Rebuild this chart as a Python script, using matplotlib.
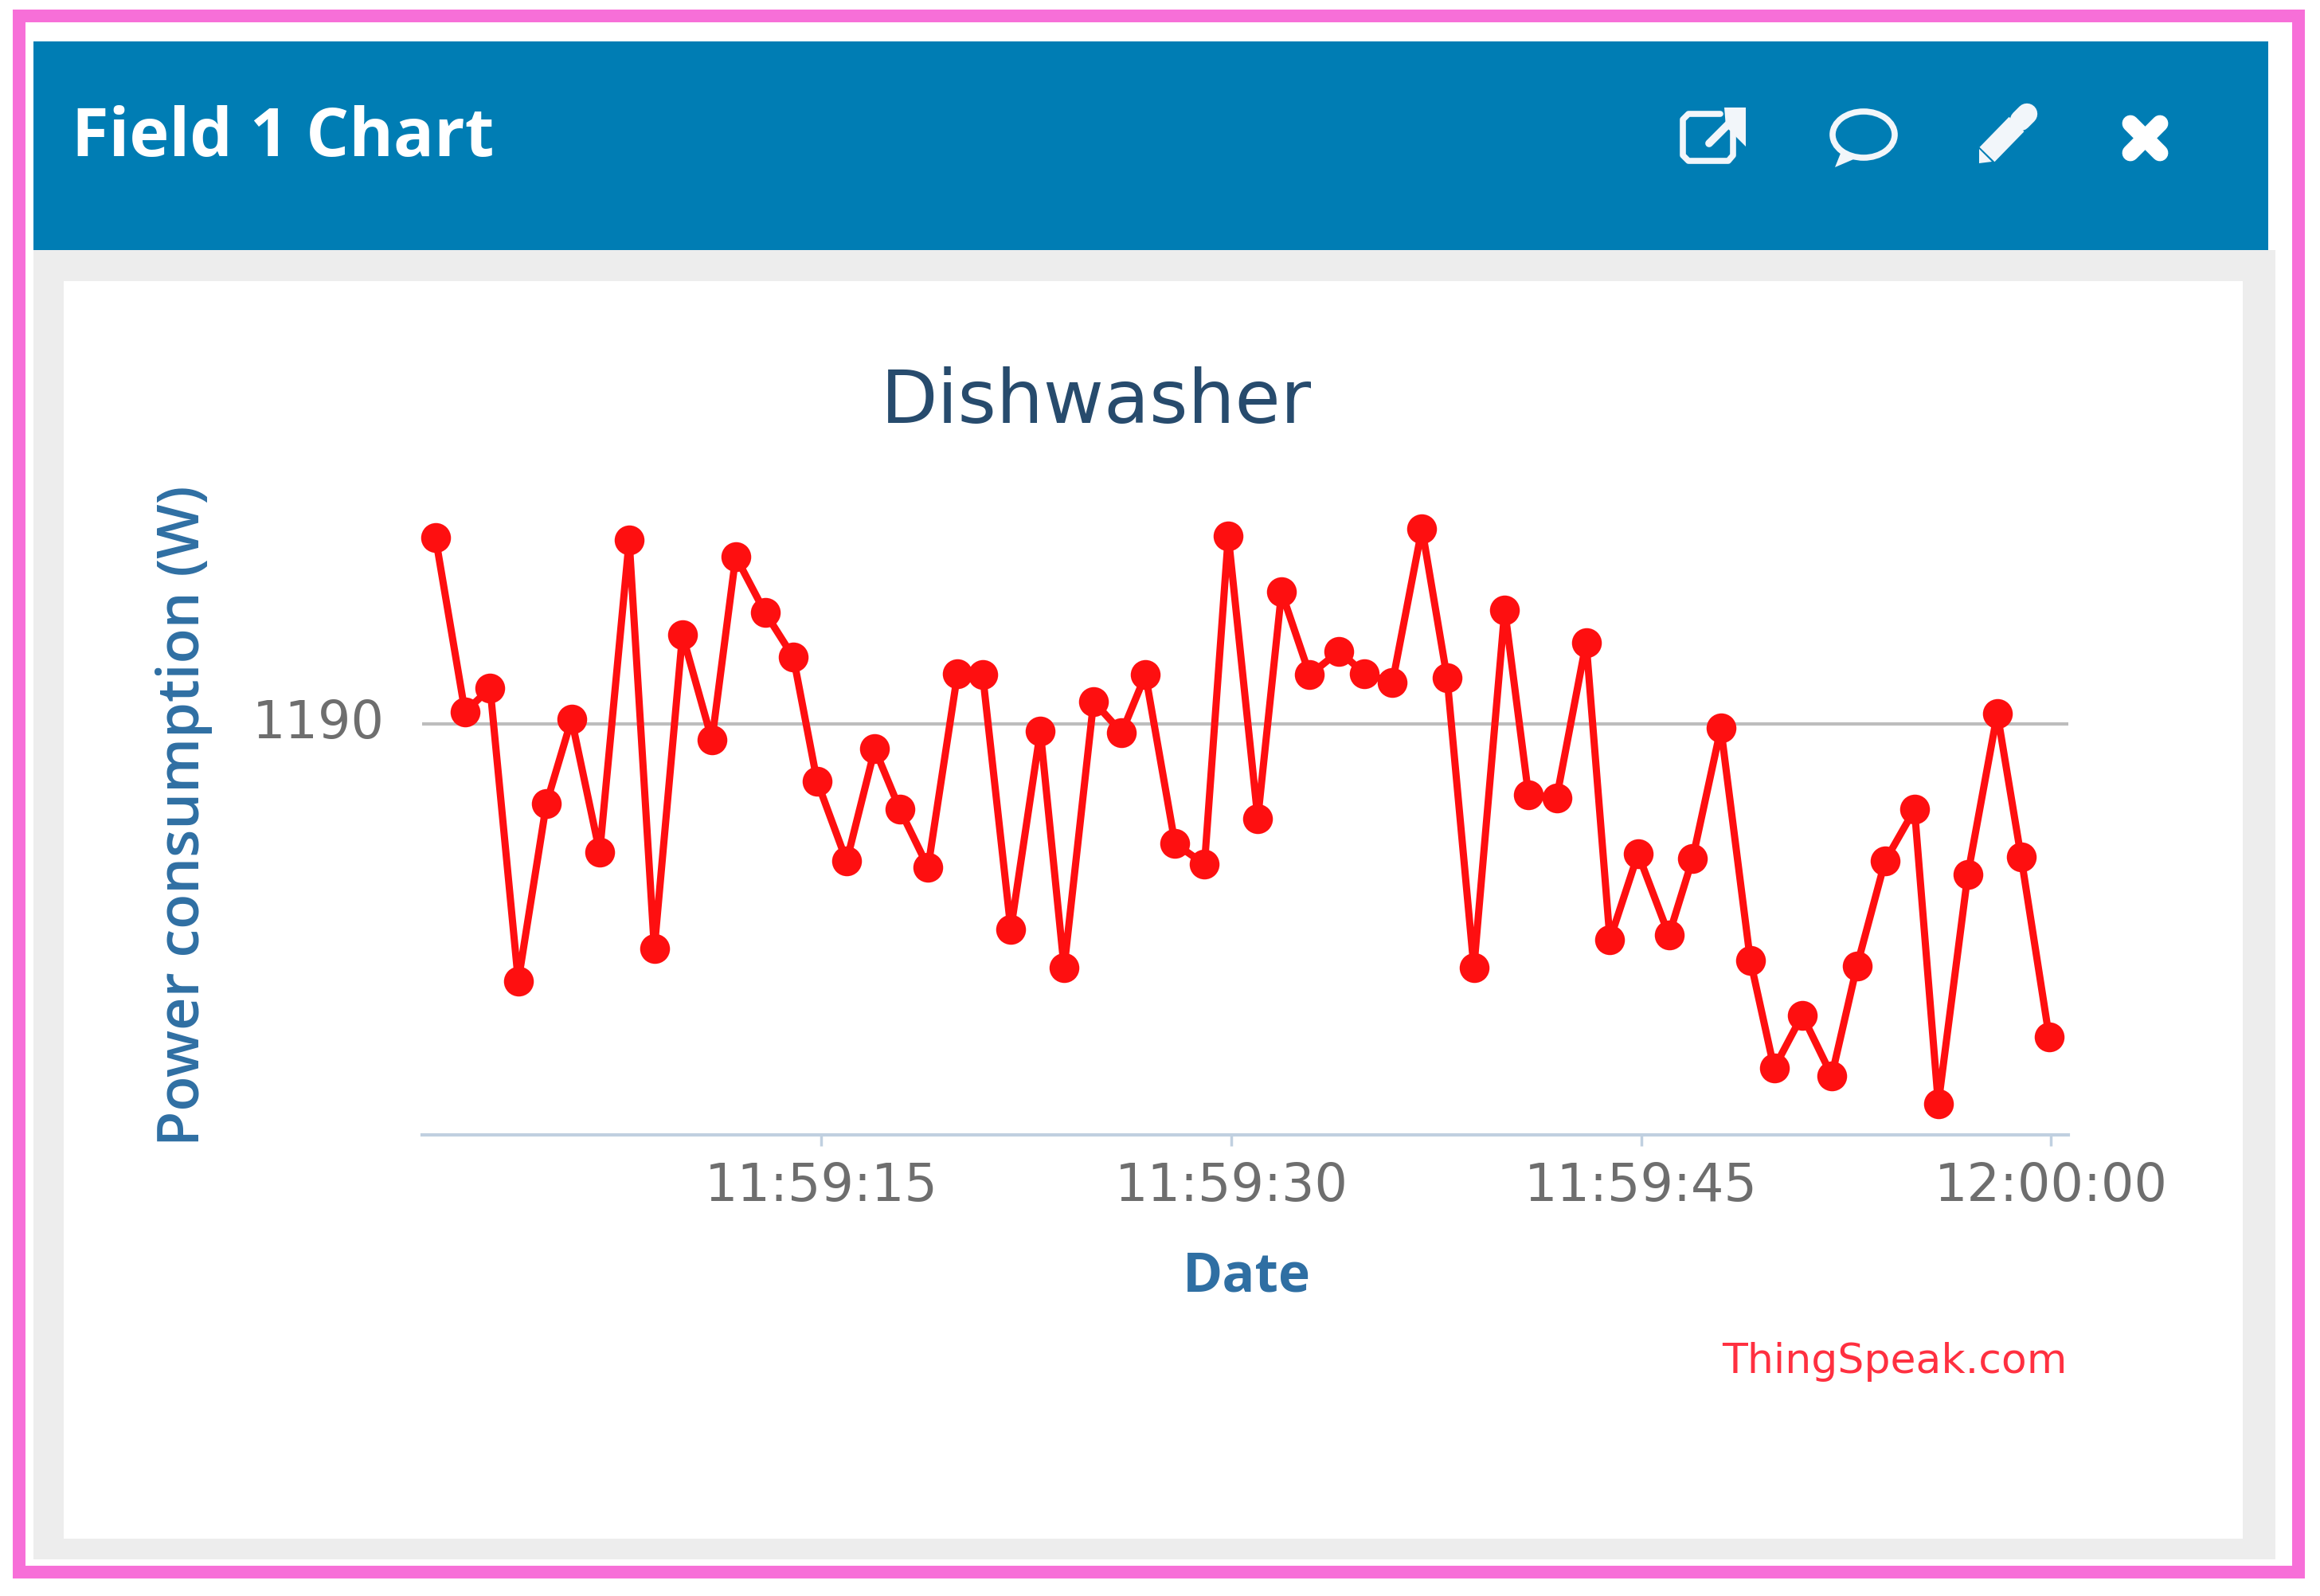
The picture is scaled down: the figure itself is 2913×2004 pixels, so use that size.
import matplotlib
matplotlib.use("Agg")
import matplotlib.pyplot as plt
from matplotlib.patches import Rectangle, Ellipse, Polygon
from matplotlib.transforms import ScaledTranslation

#seconds after 11:59:00
seconds = [0.87, 1.95, 2.87, 3.90, 4.93, 5.85, 6.88, 7.96, 8.88, 9.91,
           10.99, 11.86, 12.94, 13.97, 14.84, 15.92, 16.95, 17.87, 18.90, 19.98,
           20.90, 21.93, 23.01, 23.88, 24.96, 25.99, 26.86, 27.94, 29.02, 29.89,
           30.97, 31.84, 32.87, 33.95, 34.87, 35.90, 36.98, 37.90, 38.88, 40.01,
           40.88, 41.91, 42.99, 43.86, 44.89, 46.02, 46.89, 47.92, 49.00, 49.87,
           50.90, 51.98, 52.90, 53.93, 55.01, 55.88, 56.96, 58.04, 58.91, 59.94]
power = [1191.26, 1190.08, 1190.24, 1188.26, 1189.46, 1190.03, 1189.13, 1191.24, 1188.48, 1190.60,
         1189.89, 1191.13, 1190.75, 1190.45, 1189.61, 1189.07, 1189.83, 1189.42, 1189.03, 1190.34,
         1190.33, 1188.61, 1189.95, 1188.35, 1190.15, 1189.94, 1190.33, 1189.19, 1189.05, 1191.27,
         1189.36, 1190.89, 1190.33, 1190.49, 1190.34, 1190.28, 1191.32, 1190.31, 1188.35, 1190.77,
         1189.52, 1189.50, 1190.55, 1188.54, 1189.12, 1188.57, 1189.09, 1189.97, 1188.40, 1187.67,
         1188.03, 1187.62, 1188.36, 1189.07, 1189.42, 1187.43, 1188.98, 1190.07, 1189.10, 1187.88]
x_ticks = [15, 30, 45, 60]
x_labels = ["11:59:15", "11:59:30", "11:59:45", "12:00:00"]
y_ticks = [1190]
y_labels = ["1190"]

W, H = 2913, 2004
blue = "#007DB4"
icon = "#F2F6FA"

fig = plt.figure(figsize=(W/100, H/100), dpi=100, facecolor="white")

#background layer in pixels
bg = fig.add_axes([0, 0, 1, 1])
bg.set_xlim(0, W)
bg.set_ylim(H, 0)
bg.axis("off")
bg.add_patch(Rectangle((24, 20), 2862, 1954, fill=False, ec="#F76FD8", lw=11.5))
bg.add_patch(Rectangle((42, 314), 2815, 1644, fc="#EDEDED", ec="none"))
bg.add_patch(Rectangle((42, 52), 2806, 262, fc=blue, ec="none"))
bg.add_patch(Rectangle((80, 353), 2736, 1579, fc="white", ec="none"))
bg.text(90, 174, "Field 1 Chart", color="white", fontsize=61, fontweight="bold",
        family="Open Sans", va="center", ha="left")

#external link icon
bg.plot([2160, 2120, 2113, 2113, 2120, 2170, 2176, 2176], [143, 143, 150, 195, 202, 202, 195, 165],
        color=icon, lw=5.5, solid_joinstyle="round", solid_capstyle="round")
bg.plot([2146, 2180], [180, 146], color=icon, lw=7, solid_capstyle="round")
bg.add_patch(Polygon([[2192, 135], [2192, 184], [2167, 159], [2165, 135]], fc=icon, ec="none"))
#comment icon
bg.add_patch(Ellipse((2340, 169), 78, 58, fill=False, ec=icon, lw=5.5))
bg.add_patch(Polygon([[2312, 190], [2304, 210], [2332, 198]], fc=icon, ec="none"))
#pencil icon
bg.plot([2495, 2532], [194, 156], color=icon, lw=19, solid_capstyle="butt")
bg.plot([2537, 2545], [151, 143], color=icon, lw=19, solid_capstyle="round")
bg.add_patch(Polygon([[2485, 187], [2501, 203], [2485, 205]], fc=icon, ec="none"))
#close icon
bg.plot([2675, 2712], [155, 192], color="white", lw=15, solid_capstyle="round")
bg.plot([2675, 2712], [192, 155], color="white", lw=15, solid_capstyle="round")

#chart
left, right, top, bottom = 530, 2597, 632, 1425
ax = fig.add_axes([left/W, 1-bottom/H, (right-left)/W, (bottom-top)/H])
ax.patch.set_alpha(0)
ax.plot(seconds, power, color="#FE0F10", lw=6.5, marker="o", ms=27, mec="none", clip_on=False, zorder=3)
ax.set_xlim(0.38, 60.64)
ax.set_ylim(1187.22, 1191.49)
ax.set_xticks(x_ticks)
ax.set_xticklabels(x_labels)
ax.set_yticks(y_ticks)
ax.set_yticklabels(y_labels)
ax.grid(axis="y", color="#BDBDBD", lw=3)
for s in ["top", "left", "right"]:
    ax.spines[s].set_visible(False)
ax.spines["bottom"].set_color("#C0D0E0")
ax.spines["bottom"].set_linewidth(3)
ax.tick_params(axis="x", length=10, width=2.5, color="#C0D0E0", labelsize=47, labelcolor="#6E6E6E", pad=14)
ax.tick_params(axis="y", length=0, labelsize=47, labelcolor="#6E6E6E", pad=34)
for lab in ax.get_xticklabels() + ax.get_yticklabels():
    lab.set_family("DejaVu Sans")
#1190 sits a little above its grid line
shift = ScaledTranslation(0, 5/72, fig.dpi_scale_trans)
lab = ax.get_yticklabels()[0]
lab.set_transform(lab.get_transform() + shift)

fig.text(1376/W, 1-505/H, "Dishwasher", color="#274B6D", fontsize=67, family="DejaVu Sans", ha="center", va="center")
fig.text(231/W, 1-1024/H, "Power consumption (W)", color="#2F6FA3", fontsize=52, family="Open Sans",
         fontweight="semibold", rotation=90, ha="center", va="center")
fig.text(1565/W, 1-1604/H, "Date", color="#2F6FA3", fontsize=49, family="Open Sans",
         fontweight="bold", ha="center", va="center")
fig.text(2596/W, 1-1710/H, "ThingSpeak.com", color="#FF3040", fontsize=37.5, family="DejaVu Sans", ha="right", va="center")

fig.savefig("out.png", dpi=100)
